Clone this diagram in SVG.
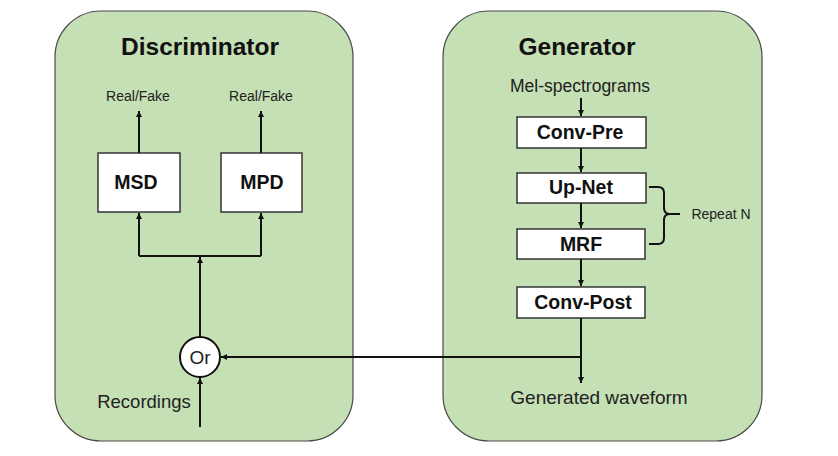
<svg xmlns="http://www.w3.org/2000/svg" width="838" height="456" viewBox="0 0 838 456">
<style>
.panel{fill:#c5e0b4;stroke:#4a4a4a;stroke-width:1.2}
.box{fill:#ffffff;stroke:#333333;stroke-width:1.5}
.title{font-family:"Liberation Sans",Arial,sans-serif;font-weight:bold;font-size:24.5px;fill:#111;text-anchor:middle}
.bt{font-family:"Liberation Sans",Arial,sans-serif;font-weight:bold;font-size:19.5px;fill:#111;text-anchor:middle}
.lbl{font-family:"Liberation Sans",Arial,sans-serif;font-size:14px;fill:#222;text-anchor:middle}
.lbl2{font-family:"Liberation Sans",Arial,sans-serif;font-size:18.5px;fill:#222;text-anchor:middle}
.ln{fill:none;stroke:#111;stroke-width:2}
</style>
<defs>
<marker id="ah" viewBox="0 0 10 10" refX="10" refY="5" markerWidth="3.2" markerHeight="3.2" orient="auto" markerUnits="strokeWidth">
<path d="M0,0 L10,5 L0,10 z" fill="#111"/>
</marker>
</defs>
<g id="discriminator">
<rect class="panel" x="55" y="11" width="298" height="430" rx="46" ry="46"/>
<text class="title" x="200" y="55">Discriminator</text>
</g>
<g id="generator">
<rect class="panel" x="443" y="11" width="319" height="430" rx="46" ry="46"/>
<text class="title" x="577" y="55">Generator</text>
</g>
<g id="real-fake-1"><text class="lbl" x="138" y="101">Real/Fake</text></g>
<g id="real-fake-2"><text class="lbl" x="261" y="101">Real/Fake</text></g>
<g id="msd">
<rect class="box" x="98" y="153" width="82" height="59"/>
<text class="bt" x="136" y="189">MSD</text>
</g>
<g id="mpd">
<rect class="box" x="221" y="153" width="81" height="59"/>
<text class="bt" x="262" y="189">MPD</text>
</g>
<g id="or">
<circle cx="200" cy="357" r="20" fill="#ffffff" stroke="#111" stroke-width="2"/>
<text class="lbl2" x="200" y="364" style="font-size:19px">Or</text>
</g>
<g id="recordings"><text class="lbl2" x="144" y="408">Recordings</text></g>
<g id="mel"><text class="lbl2" x="580" y="92" style="font-size:17.5px">Mel-spectrograms</text></g>
<g id="conv-pre">
<rect class="box" x="517" y="117" width="129" height="31"/>
<text class="bt" x="580" y="139">Conv-Pre</text>
</g>
<g id="up-net">
<rect class="box" x="517" y="173" width="129" height="30"/>
<text class="bt" x="581" y="194">Up-Net</text>
</g>
<g id="mrf">
<rect class="box" x="517" y="229" width="128" height="30"/>
<text class="bt" x="581" y="251">MRF</text>
</g>
<g id="conv-post">
<rect class="box" x="517" y="287" width="128" height="31"/>
<text class="bt" x="583" y="309">Conv-Post</text>
</g>
<g id="repeat-n">
<path class="ln" d="M649,187 H658 Q664,187 664,193 V208 Q664,214 670,214 H680 M670,214 Q664,214 664,220 V238 Q664,244 658,244 H649" stroke-width="1.8"/>
<text class="lbl" x="721" y="219">Repeat N</text>
</g>
<g id="generated"><text class="lbl2" x="599" y="404" style="font-size:19px">Generated waveform</text></g>
<g id="connectors">
<line class="ln" x1="139" y1="153" x2="139" y2="111" marker-end="url(#ah)"/>
<line class="ln" x1="261" y1="153" x2="261" y2="111" marker-end="url(#ah)"/>
<polyline class="ln" points="139,256 261,256"/>
<line class="ln" x1="139" y1="256" x2="139" y2="213" marker-end="url(#ah)"/>
<line class="ln" x1="261" y1="256" x2="261" y2="213" marker-end="url(#ah)"/>
<line class="ln" x1="200" y1="337" x2="200" y2="257" marker-end="url(#ah)"/>
<line class="ln" x1="200" y1="427" x2="200" y2="378" marker-end="url(#ah)"/>
<line class="ln" x1="581" y1="357" x2="221" y2="357" marker-end="url(#ah)"/>
<line class="ln" x1="581" y1="98" x2="581" y2="116" marker-end="url(#ah)"/>
<line class="ln" x1="581" y1="148" x2="581" y2="172" marker-end="url(#ah)"/>
<line class="ln" x1="581" y1="203" x2="581" y2="228" marker-end="url(#ah)"/>
<line class="ln" x1="581" y1="259" x2="581" y2="286" marker-end="url(#ah)"/>
<line class="ln" x1="581" y1="318" x2="581" y2="383" marker-end="url(#ah)"/>
</g>
</svg>
